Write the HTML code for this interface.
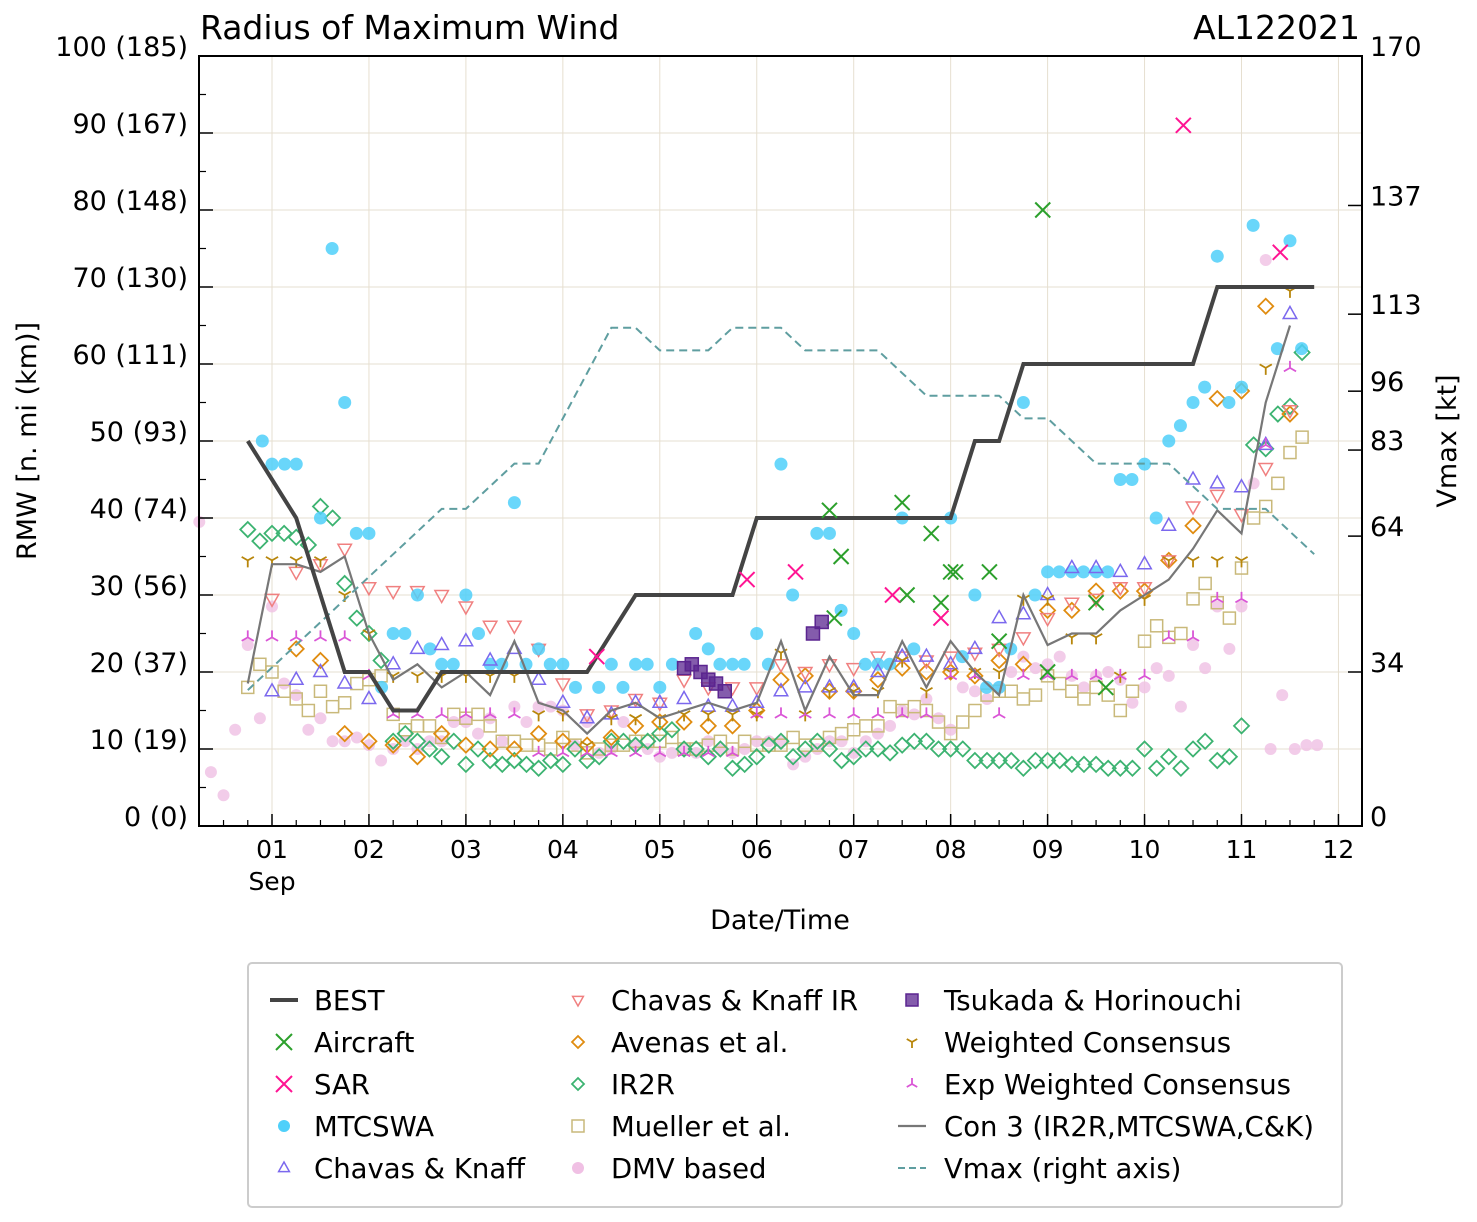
<!DOCTYPE html>
<html><head><meta charset="utf-8">
<style>
html,body{margin:0;padding:0;background:#fff;}
svg{display:block;font-family:"DejaVu Sans","Liberation Sans",sans-serif;}
</style></head>
<body>
<svg id="chart" width="1477" height="1222" viewBox="0 0 1477 1222" xmlns="http://www.w3.org/2000/svg">
<rect width="1477" height="1222" fill="#fff"/>
<g id="grid"></g>
<g id="series"></g>
<g id="axes"></g>
<text x="200" y="39" font-size="33">Radius of Maximum Wind</text>
<text x="1360" y="39" font-size="33" text-anchor="end">AL122021</text>
<text transform="translate(36,441) rotate(-90)" font-size="27" text-anchor="middle">RMW [n. mi (km)]</text>
<text transform="translate(1456,441) rotate(-90)" font-size="27" text-anchor="middle">Vmax [kt]</text>
<text x="780" y="929" font-size="27" text-anchor="middle">Date/Time</text>
<g id="legend"></g>
</svg>
<script>
const dayLabels=["01","02","03","04","05","06","07","08","09","10","11","12"];
const leftTicks=[0,10,20,30,40,50,60,70,80,90,100];
const rightTicks=[0,34,64,83,96,113,137,170];
const bestT=[0.75,1,1.25,1.5,1.75,2,2.25,2.5,2.75,3,4.25,4.5,4.75,5.75,6,8,8.25,8.5,8.75,10.5,10.75,11.75];
const bestV=[50,45,40,30,20,20,15,15,20,20,20,25,30,30,40,40,50,50,60,60,70,70];
const vmaxT=[0.75,1,1.25,1.5,1.75,2,2.25,2.5,2.75,3,3.25,3.5,3.75,4,4.25,4.5,4.75,5,5.25,5.5,5.75,6,6.25,6.5,6.75,7,7.25,7.5,7.75,8,8.25,8.5,8.75,9,9.25,9.5,9.75,10,10.25,10.5,10.75,11,11.25,11.5,11.75];
const vmaxV=[30,35,40,45,50,55,60,65,70,70,75,80,80,90,100,110,110,105,105,105,110,110,110,105,105,105,105,100,95,95,95,95,90,90,85,80,80,80,80,75,70,70,70,65,60,55].slice(0,45);
const conT=[0.75,1,1.25,1.5,1.75,2,2.25,2.5,2.75,3,3.25,3.5,3.75,4,4.25,4.5,4.75,5,5.25,5.5,5.75,6,6.25,6.5,6.75,7,7.25,7.5,7.75,8,8.25,8.5,8.75,9,9.25,9.5,9.75,10,10.25,10.5,10.75,11,11.25,11.5];
const conV=[18.5,34,34,33,35,25,19,21,18,20,17,24,16,15,12,15,16,14,15,16,15,16,24,15,22,17,17,24,18,24,20,17,30,23.5,25,25,28,30,32,36,41,38,55,65];
const mtT=[0.9,1,1.13,1.25,1.5,1.62,1.75,1.87,2,2.13,2.25,2.37,2.5,2.63,2.75,2.87,3,3.13,3.25,3.37,3.5,3.62,3.75,3.87,4,4.13,4.37,4.5,4.62,4.75,4.87,5,5.13,5.37,5.5,5.62,5.75,5.87,6,6.12,6.25,6.37,6.62,6.75,6.87,7,7.12,7.25,7.37,7.5,7.62,8,8.12,8.25,8.37,8.5,8.62,8.75,8.87,9,9.12,9.25,9.37,9.5,9.62,9.75,9.87,10,10.12,10.25,10.37,10.5,10.62,10.75,10.87,11,11.12,11.37,11.5,11.62];
const mtV=[50,47,47,47,40,75,55,38,38,18,25,25,30,23,21,21,30,25,21,21,42,21,23,21,21,18,18,21,18,21,21,18,21,25,23,21,21,21,25,21,47,30,38,38,28,25,21,21,21,40,23,40,22,30,18,18,23,55,30,33,33,33,33,33,33,45,45,47,40,50,52,55,57,74,55,57,78,62,76,62];
const acT=[6.75,6.87,6.8,7.5,7.55,7.8,7.9,8,8.05,8.4,8.5,8.95,9,9.5,9.6];
const acV=[41,35,27,42,30,38,29,33,33,33,24,80,20,29,18];
const sarT=[4.35,5.9,6.4,7.4,7.9,10.4,11.4];
const sarV=[22,32,33,30,27,91,74.5];
const tsT=[5.25,5.33,5.42,5.5,5.58,5.67,6.58,6.67];
const tsV=[20.5,21,20,19,18.5,17.5,25,26.5];
const q=(a,b)=>{const r=[];for(let t=a;t<=b+1e-6;t+=0.25)r.push(t);return r;};
const ckT=q(1,11.5);
const ckV=[17.5,19,20,18.5,16.5,21,23,23.5,24,21.5,23,19,16,14,14.5,16,16,16.5,15.5,15.5,16,17.5,18,18,18,20,22,22,21,23,27,27.5,30,33.5,33.5,33,34,39,45,44.5,44,49.5,66.5];
const ckirT=q(1,11.5);
const ckirV=[29.5,33,34,36,31,30.5,30.5,30,28.5,26,26,23,18.5,14.5,15,16.5,16,19,18,18,18,21,20,21,20.5,22,22,21.5,22,22.5,23,24.5,27,29,29.5,31,31,34.5,41.5,43,40.5,46.5,54];
const avT=q(1.25,11.5);
const avV=[23,21.5,12,11,10.5,9,12,10.5,10,10,12,11,10.5,11.5,13,13.5,13.5,13,13,15,19,19.5,17.5,17.5,19,20.5,20,20,19.5,21.5,21,28,28,30.5,30.5,30.5,34.5,39,55.5,56.5,67.5,53.5];
const h=(a,b)=>{const r=[];for(let t=a;t<=b+1e-6;t+=0.125)r.push(t);return r;};
const irT=h(0.75,11.625);
const irV=[38.5,37,38,38,37.5,36.5,41.5,40,31.5,27,25,21.5,11,12,11,10,9,11,8,10,8.5,8,8.5,8,7.5,8.5,8,10,8.5,9,11,11,10.5,11,12,12.5,10,10,9,10,7.5,8,9,10.5,11,9,10,11,10,8.5,9,10,10,9.5,10.5,11,11,10,10,10,8.5,8.5,8.5,8.5,7.5,8.5,8.5,8.5,8,8,8,7.5,7.5,7.5,10,7.5,9,7.5,10,11,8.5,9,13,49.5,49,53.5,54.5,61.5];
const muT=h(0.75,11.625);
const muV=[18,21,20,17.5,16.5,15,17.5,15.5,16,18.5,19,19.5,14.5,12.5,13,13,11.5,14.5,14,14.5,13,11,11,10.5,10.5,10,11.5,10.5,9.5,10,10.5,10.5,11,11,11,11.5,10,10,10.5,11,10,11,10.5,10.5,10.5,11.5,10.5,10.5,11.5,12,12.5,13,13,15.5,15,15.5,15,13.5,12,13.5,15,17,17.5,17.5,16.5,17,19.5,18.5,17.5,16.5,18,17,15,17.5,24,26,24.5,25,29.5,31.5,29,27,33.5,40,41.5,44.5,48.5,50.5];
const dmT=[0.25,0.37,0.5,0.62].concat(h(0.75,11.25)).concat([11.3,11.42,11.55,11.67,11.78]);
const dmV=[39.5,7,4,12.5,23.5,14,28.5,18.5,17,12.5,14,11,11,11.5,10.5,8.5,10,11,10,11,11,13.5,13.5,12,14,11,15.5,13.5,15.5,15.5,15,10.5,13.5,9.5,10,13.5,10.5,10,9,9.5,10,9.5,11,10,9.5,10,11,11,11,8,9,10,11,11,9.5,11,12,13,15,14.5,16.5,14,12.5,18,17.5,16.5,18,20,22,20.5,21,22,19.5,18,19.5,20,19,16,18,20.5,19.5,15.5,23.5,20.5,28.5,23,28.5,44.5,73.5,10,17,10,10.5,10.5];
const wcT=q(0.75,11.5);
const wcV=[34.5,34.5,34.5,34.5,30,25,19.5,19.5,19.5,19.5,19.5,19.5,14.5,14.5,10.5,14,14,14,14.5,14.5,14.5,14.5,22.5,14.5,17.5,17.5,17.5,21.5,17.5,20,20,20,29.5,29.5,24.5,24.5,19.5,29.5,34.5,34.5,34.5,34.5,59.5,69.5];
const ewT=q(0.75,11.5);
const ewV=[24.5,24.5,24.5,24.5,24.5,19.5,14.5,14.5,14.5,14.5,14.5,14.5,9.5,9.5,9.5,9.5,9.5,9.5,9.5,9.5,9.5,14.5,14.5,14.5,14.5,14.5,14.5,14.5,14.5,19.5,19.5,14.5,19.5,19.5,19.5,19.5,19.5,19.5,24.5,24.5,29.5,29.5,49.5,59.5];

const X0=199,X1=1362,Y0=56,Y1=826;
const xs=t=>272+(t-1)*96.95;
const ys=v=>Y1-v*(Y1-Y0)/100;
const yr=v=>Y1-v*(Y1-Y0)/170;
const NS="http://www.w3.org/2000/svg";
function mk(tag,attrs,parent){const e=document.createElementNS(NS,tag);for(const k in attrs)e.setAttribute(k,attrs[k]);parent.appendChild(e);return e;}
const grid=document.getElementById('grid'),axes=document.getElementById('axes'),ser=document.getElementById('series'),leg=document.getElementById('legend');

for(let i=0;i<12;i++){const x=xs(i+1);
 const g=mk('line',{x1:x,x2:x,y1:Y0,y2:Y1,stroke:'#e6dfd0','stroke-width':1},grid);
 
 
 const tk=mk('line',{x1:x,x2:x,y1:Y1,y2:Y1-12,stroke:'#000','stroke-width':1.5},axes);
 
 
 const tl=mk('text',{x:x,y:858,'font-size':25,'text-anchor':'middle'},axes);tl.textContent=dayLabels[i];
 
 
}
for(let t=0.25;t<12.3;t+=0.25){if(Math.abs(t-Math.round(t))<1e-6)continue;const x=xs(t);if(x<X0||x>X1)continue;
 const m=mk('line',{x1:x,x2:x,y1:Y1,y2:Y1-6,stroke:'#000','stroke-width':1.2},axes);
 
 }
const sep=mk('text',{x:xs(1),y:890,'font-size':25,'text-anchor':'middle'},axes);sep.textContent='Sep';


for(const v of leftTicks){const y=ys(v);
 if(v>0&&v<100){const g=mk('line',{x1:X0,x2:X1,y1:y,y2:y,stroke:'#e6dfd0','stroke-width':1},grid);
 
 }
 const tk=mk('line',{x1:X0,x2:X0+14,y1:y,y2:y,stroke:'#000','stroke-width':1.5},axes);
 
 
 const tl=mk('text',{x:188,y:y,'font-size':27,'text-anchor':'end'},axes);tl.textContent=v+' ('+Math.round(v*1.852)+')';
 
 
}
for(let v=5;v<100;v+=10){const y=ys(v);const m=mk('line',{x1:X0,x2:X0+7,y1:y,y2:y,stroke:'#000','stroke-width':1.2},axes);
 
 }
for(const v of rightTicks){const y=yr(v);
 const tk=mk('line',{x1:X1-14,x2:X1,y1:y,y2:y,stroke:'#000','stroke-width':1.5},axes);
 
 
 const tl=mk('text',{x:1370,y:y,'font-size':27},axes);tl.textContent=v;
 
 
}
const fr=mk('rect',{x:X0,y:Y0,width:X1-X0,height:Y1-Y0,fill:'none',stroke:'#000','stroke-width':2},axes);



function marker(type,x,y,c,s,parent){
 const r=s;let e;
 if(type==='circle')e=mk('circle',{cx:x,cy:y,r:r,fill:c,stroke:'none'},parent);
 else if(type==='square')e=mk('rect',{x:x-r,y:y-r,width:2*r,height:2*r,fill:'none',stroke:c,'stroke-width':1.5},parent);
 else if(type==='fsquare')e=mk('rect',{x:x-r,y:y-r,width:2*r,height:2*r,fill:c,'fill-opacity':0.75,stroke:c,'stroke-width':1.5},parent);
 else if(type==='diamond')e=mk('path',{d:`M${x} ${y-r}L${x+r} ${y}L${x} ${y+r}L${x-r} ${y}Z`,fill:'none',stroke:c,'stroke-width':1.8},parent);
 else if(type==='tup')e=mk('path',{d:`M${x} ${y-r}L${x+r*0.9} ${y+r*0.6}L${x-r*0.9} ${y+r*0.6}Z`,fill:'none',stroke:c,'stroke-width':1.5},parent);
 else if(type==='tdown')e=mk('path',{d:`M${x} ${y+r}L${x+r*0.9} ${y-r*0.6}L${x-r*0.9} ${y-r*0.6}Z`,fill:'none',stroke:c,'stroke-width':1.5},parent);
 else if(type==='x')e=mk('path',{d:`M${x-r} ${y-r}L${x+r} ${y+r}M${x-r} ${y+r}L${x+r} ${y-r}`,stroke:c,'stroke-width':2,fill:'none'},parent);
 else if(type==='tri1')e=mk('path',{d:`M${x} ${y}L${x} ${y+r}M${x} ${y}L${x-r*0.87} ${y-r*0.5}M${x} ${y}L${x+r*0.87} ${y-r*0.5}`,stroke:c,'stroke-width':1.8,fill:'none'},parent);
 else if(type==='tri2')e=mk('path',{d:`M${x} ${y}L${x} ${y-r}M${x} ${y}L${x-r*0.87} ${y+r*0.5}M${x} ${y}L${x+r*0.87} ${y+r*0.5}`,stroke:c,'stroke-width':1.8,fill:'none'},parent);
 return e;
}
function scatter(name,T,V,type,c,s,op){
 const g=mk('g',{opacity:op||1},ser);
 
 
 for(let i=0;i<Math.min(T.length,V.length);i++){const e=marker(type,xs(T[i]),ys(V[i]),c,s,g);
  
  }
}
function line(name,T,V,yf,c,w,dash){
 const pts=[];for(let i=0;i<Math.min(T.length,V.length);i++)pts.push(xs(T[i]).toFixed(1)+','+yf(V[i]).toFixed(1));
 const p=mk('polyline',{points:pts.join(' '),fill:'none',stroke:c,'stroke-width':w,'stroke-dasharray':dash||'none'},ser);
 
 
}
const C={best:'#444',ac:'#2ca02c',sar:'#ff1493',mt:'#4fd0fa',ck:'#7b68ee',ckir:'#f08080',av:'#e08c10',ir:'#3cb371',mu:'#c9b97a',dm:'#f0c0e4',ts:'#5b2590',wc:'#b8860b',ew:'#da55d6',con:'#777',vm:'#5f9ea0'};
scatter('dmv',dmT,dmV,'circle',C.dm,6,0.8);
scatter('mueller',muT,muV,'square',C.mu,6);
scatter('ir2r',irT,irV,'diamond',C.ir,7.5);
scatter('avenas',avT,avV,'diamond',C.av,7.5);
scatter('chavas-knaff-ir',ckirT,ckirV,'tdown',C.ckir,7.5);
scatter('mtcswa',mtT,mtV,'circle',C.mt,6.5,0.85);
scatter('chavas-knaff',ckT,ckV,'tup',C.ck,7.5);
scatter('weighted-consensus',wcT,wcV,'tri1',C.wc,7);
scatter('exp-weighted-consensus',ewT,ewV,'tri2',C.ew,7);
line('con3',conT,conV,ys,C.con,2.2);
line('vmax',vmaxT,vmaxV,yr,C.vm,2,'8,5');
line('best',bestT,bestV,ys,C.best,4);
scatter('aircraft',acT,acV,'x',C.ac,7.5);
scatter('sar',sarT,sarV,'x',C.sar,7.5);
scatter('tsukada',tsT,tsV,'fsquare',C.ts,6.5);

// legend
const lb=mk('rect',{x:248,y:963,width:1094,height:244,rx:4,fill:'#fff',stroke:'#ccc','stroke-width':2},leg);


const items=[
 [0,'BEST','lineS',C.best],[0,'Aircraft','x',C.ac],[0,'SAR','x',C.sar],[0,'MTCSWA','circle',C.mt],[0,'Chavas & Knaff','tup',C.ck],
 [1,'Chavas & Knaff IR','tdown',C.ckir],[1,'Avenas et al.','diamond',C.av],[1,'IR2R','diamond',C.ir],[1,'Mueller et al.','square',C.mu],[1,'DMV based','circle',C.dm],
 [2,'Tsukada & Horinouchi','fsquare',C.ts],[2,'Weighted Consensus','tri1',C.wc],[2,'Exp Weighted Consensus','tri2',C.ew],[2,'Con 3 (IR2R,MTCSWA,C&K)','lineT',C.con],[2,'Vmax (right axis)','lineD',C.vm]];
const colM=[284,578,912],colT=[314,611,944];
const rowc={0:0,1:0,2:0};
for(const [col,label,type,c] of items){
 const r=rowc[col]++;const y=1000+r*42;const g=mk('g',{},leg);
 
 
 const mx=colM[col];
 if(type==='lineS')mk('line',{x1:mx-14,x2:mx+14,y1:y,y2:y,stroke:c,'stroke-width':4},g);
 else if(type==='lineT')mk('line',{x1:mx-14,x2:mx+14,y1:y,y2:y,stroke:c,'stroke-width':2.2},g);
 else if(type==='lineD')mk('line',{x1:mx-14,x2:mx+14,y1:y,y2:y,stroke:c,'stroke-width':2,'stroke-dasharray':'7,4'},g);
 else marker(type,mx,y,c,(type==='circle'?6:(type==='x'?8:6)),g);
 const t=mk('text',{x:colT[col],y:y+10,'font-size':27.5},g);t.textContent=label;
}
</script>
</body></html>
